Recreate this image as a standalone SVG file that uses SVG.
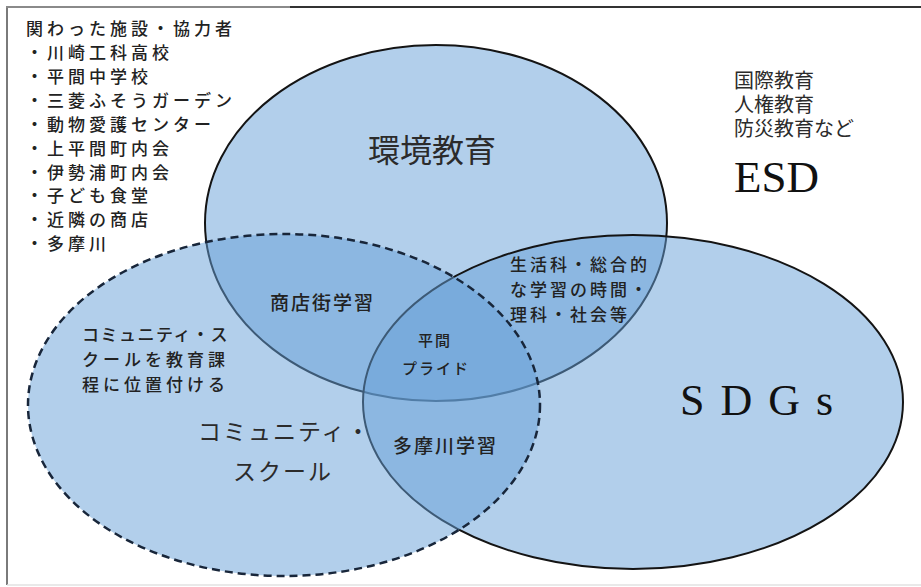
<svg xmlns="http://www.w3.org/2000/svg" width="921" height="587" viewBox="0 0 921 587">
<style>
.fill{fill:rgb(101,159,215);fill-opacity:0.5}
.solid{fill:none;stroke:#141414;stroke-width:2}
.dash{fill:none;stroke:#18263a;stroke-width:2.5;stroke-dasharray:8 5}
.g{font-family:"Noto Sans CJK JP","Noto Sans",sans-serif;font-weight:500;fill:#222;letter-spacing:2px}
.li{font-family:"Noto Sans CJK JP","Noto Sans",sans-serif;font-weight:500;fill:#222;font-size:17px;letter-spacing:4px}
.m{font-family:"Liberation Serif","Noto Sans CJK JP",serif;fill:#2b2b2b}
.lat{font-family:"Liberation Serif","Times New Roman",serif;fill:#111}
</style>
<rect x="0" y="0" width="921" height="587" fill="#fff"/>
<g id="frame">
<line x1="7" y1="6" x2="7" y2="585" stroke="#7a7a7a" stroke-width="2"/>
<line x1="6" y1="7" x2="290" y2="7" stroke="#8a8a8a" stroke-width="2"/>
<line x1="290" y1="7" x2="921" y2="7" stroke="#333" stroke-width="2"/>
<line x1="7" y1="585" x2="921" y2="585" stroke="#e2e2e2" stroke-width="1.5"/>
</g>
<g id="kankyo">
<ellipse class="fill" cx="436" cy="223" rx="231" ry="178"/>
<ellipse class="solid" cx="436" cy="223" rx="231" ry="178"/>
</g>
<g id="sdgs">
<ellipse class="fill" cx="633" cy="402" rx="270" ry="167"/>
<ellipse class="solid" cx="633" cy="402" rx="270" ry="167"/>
</g>
<g id="community">
<ellipse class="fill" cx="284" cy="405" rx="256" ry="171"/>
<ellipse class="dash" cx="284" cy="405" rx="256" ry="171"/>
</g>
<g id="connectors"></g>
<g id="list">
<text class="li" x="26" y="35">関わった施設・協力者</text>
<text class="li" x="26" y="59">・川崎工科高校</text>
<text class="li" x="26" y="83">・平間中学校</text>
<text class="li" x="26" y="107">・三菱ふそうガーデン</text>
<text class="li" x="26" y="131">・動物愛護センター</text>
<text class="li" x="26" y="155">・上平間町内会</text>
<text class="li" x="26" y="179">・伊勢浦町内会</text>
<text class="li" x="26" y="202">・子ども食堂</text>
<text class="li" x="26" y="226">・近隣の商店</text>
<text class="li" x="26" y="250">・多摩川</text>
</g>
<g id="esd">
<text class="m" x="734" y="88" font-size="20">国際教育</text>
<text class="m" x="734" y="112" font-size="20">人権教育</text>
<text class="m" x="734" y="136" font-size="20">防災教育など</text>
<text class="lat" x="734" y="192" font-size="45">ESD</text>
</g>
<g id="labels-kankyo">
<text class="m" x="368" y="162" font-size="32">環境教育</text>
</g>
<g id="labels-sdgs">
<text class="lat" x="680" y="415" font-size="44" letter-spacing="16">SDGs</text>
</g>
<g id="labels-community">
<text class="m" x="198" y="440" font-size="23" letter-spacing="2">コミュニティ・</text>
<text class="m" x="233" y="480" font-size="23" letter-spacing="2">スクール</text>
<text class="g" x="82" y="341" font-size="17" style="letter-spacing:1.5px">コミュニティ・ス</text>
<text class="g" x="82" y="366" font-size="17" style="letter-spacing:4px">クールを教育課</text>
<text class="g" x="82" y="391" font-size="17" style="letter-spacing:4px">程に位置付ける</text>
</g>
<g id="labels-overlap">
<text class="g" x="510" y="271" font-size="17" style="letter-spacing:3px">生活科・総合的</text>
<text class="g" x="510" y="296" font-size="17" style="letter-spacing:3px">な学習の時間・</text>
<text class="g" x="510" y="321" font-size="17" style="letter-spacing:3px">理科・社会等</text>
<text class="g" x="270" y="310" font-size="19">商店街学習</text>
<text class="g" x="418" y="346" font-size="15">平間</text>
<text class="g" x="402" y="374" font-size="15">プライド</text>
<text class="g" x="393" y="453" font-size="19">多摩川学習</text>
</g>
</svg>
